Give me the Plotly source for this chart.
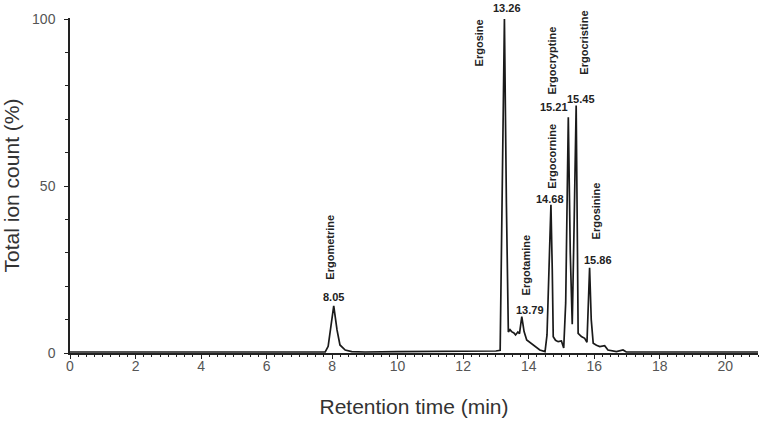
import plotly.graph_objects as go

# chromatogram: retention time (min) and relative intensity (%)
retention_time = [
    0.0, 1.0, 2.0, 3.0, 4.0, 5.0, 6.0, 7.0, 7.79, 7.88, 7.94, 8.0, 8.05, 8.1,
    8.15, 8.24, 8.4, 8.6, 9.0, 10.0, 11.0, 12.0, 12.5, 13.0, 13.13, 13.19,
    13.26, 13.32, 13.38, 13.43, 13.48, 13.55, 13.6, 13.67, 13.72, 13.79,
    13.86, 13.94, 14.13, 14.34, 14.5, 14.56, 14.62, 14.68, 14.72, 14.75,
    14.82, 14.9, 15.0, 15.07, 15.13, 15.21, 15.27, 15.33, 15.39, 15.45,
    15.49, 15.51, 15.61, 15.71, 15.78, 15.82, 15.86, 15.91, 15.97, 16.07,
    16.17, 16.32, 16.42, 16.68, 16.88, 16.98, 17.5, 18.0, 19.0, 20.0, 21.0,
]
intensity = [
    0.3, 0.3, 0.4, 0.3, 0.3, 0.3, 0.3, 0.3, 0.3, 2.0, 6.9, 11.0, 14.1, 10.5,
    6.9, 2.4, 0.9, 0.4, 0.3, 0.4, 0.4, 0.5, 0.5, 0.6, 0.8, 40.0,
    100.0, 45.0, 6.3, 7.0, 6.4, 6.0, 5.4, 6.3, 5.8, 10.9,
    6.4, 3.9, 2.4, 0.9, 0.4, 5.4, 25.0, 44.4, 25.0, 4.9,
    3.8, 3.4, 3.6, 1.5, 15.0, 70.6, 30.0, 8.6, 40.0, 74.1,
    30.0, 5.9, 4.9, 4.4, 3.2, 14.0, 25.5, 10.0, 2.9, 2.3,
    1.9, 2.2, 0.9, 0.4, 0.9, 0.3, 0.3, 0.3, 0.3, 0.3, 0.3,
]

# labelled peaks
peak_names = ['Ergometrine', 'Ergosine', 'Ergotamine', 'Ergocornine',
              'Ergocryptine', 'Ergocristine', 'Ergosinine']
peak_times = [8.05, 13.26, 13.79, 14.68, 15.21, 15.45, 15.86]
peak_heights = [14.1, 100.0, 10.9, 44.4, 70.6, 74.1, 25.5]

# pixel offsets of the labels from each peak apex
number_shift = [(0, 9), (3, 11), (8, 7), (-1, 6), (-14, 10), (5, 7), (8, 8)]
name_shift = [(-4, 59), (-25, -24), (4, 52), (1, 49), (-16, 57), (7, 63), (6, 57)]

FONT = 'Arial, Liberation Sans, sans-serif'

fig = go.Figure()
fig.add_trace(go.Scatter(x=retention_time, y=intensity, mode='lines',
                         line=dict(color='#1a1a1a', width=1.7),
                         hoverinfo='skip'))

for name, t, h, (nx, ny), (mx, my) in zip(peak_names, peak_times, peak_heights,
                                          number_shift, name_shift):
    fig.add_annotation(x=t, y=h, text=f'<b>{t:.2f}</b>', showarrow=False,
                       xshift=nx, yshift=ny,
                       font=dict(family=FONT, size=11, color='#222'))
    fig.add_annotation(x=t, y=h, text=f'<b>{name}</b>', showarrow=False,
                       textangle=-90, xshift=mx, yshift=my,
                       font=dict(family=FONT, size=11, color='#222'))

fig.update_layout(
    width=761, height=427,
    margin=dict(l=70, r=3, t=18, b=74),
    paper_bgcolor='white', plot_bgcolor='white',
    showlegend=False,
    font=dict(family=FONT),
    xaxis=dict(range=[0, 21], tickvals=list(range(0, 21, 2)),
               automargin=False,
               showline=True, linecolor='#222', linewidth=1.5,
               ticks='outside', ticklen=4, tickcolor='#222',
               minor=dict(dtick=0.25, ticks='outside', ticklen=2,
                          tickcolor='#222'),
               showgrid=False, zeroline=False,
               tickfont=dict(size=14, color='#555'),
               ticklabelstandoff=-5,
               title=dict(text='Retention time (min)', standoff=27,
                          font=dict(size=21, color='#333'))),
    yaxis=dict(range=[0, 100.3], tickvals=[0, 50, 100],
               automargin=False,
               showline=True, linecolor='#222', linewidth=1.5,
               ticks='outside', ticklen=4, tickcolor='#222',
               minor=dict(dtick=10, ticks='outside', ticklen=3,
                          tickcolor='#222'),
               showgrid=False, zeroline=False,
               tickfont=dict(size=14, color='#555'),
               ticklabelstandoff=6,
               title=dict(text='Total ion count (%)', standoff=18,
                          font=dict(size=21, color='#333'))),
)

# drop the page's default 8px body margin so the figure fills the window
fig.write_html('out.html', config={'displayModeBar': False},
               post_script="document.body.style.margin = '0';")
